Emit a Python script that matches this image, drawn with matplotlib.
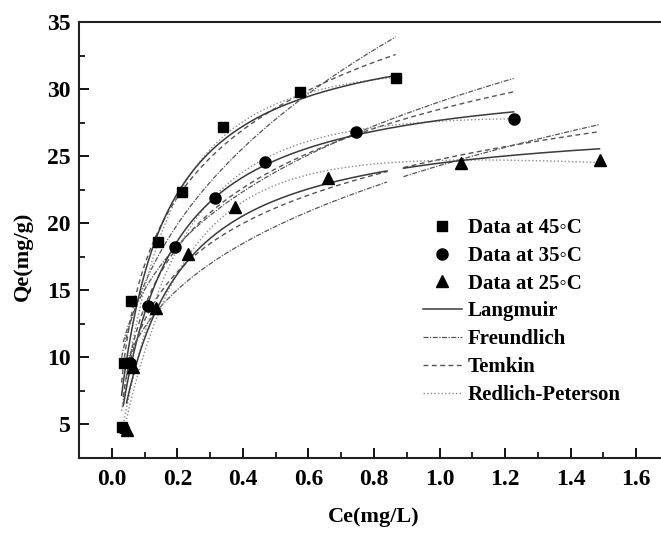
import numpy as np
import matplotlib
matplotlib.use("Agg")
import matplotlib.pyplot as plt
from matplotlib.lines import Line2D
from matplotlib.ticker import MultipleLocator

plt.rcParams['font.family'] = ['Liberation Serif', 'DejaVu Serif']
plt.rcParams['font.weight'] = 'bold'

# ---- measured data (Ce in mg/L, Qe in mg/g) ----
ce_45 = [0.030, 0.037, 0.060, 0.140, 0.213, 0.338, 0.575, 0.866]
qe_45 = [4.8, 9.6, 14.2, 18.6, 22.3, 27.2, 29.8, 30.8]
ce_35 = [0.035, 0.055, 0.110, 0.192, 0.314, 0.466, 0.744, 1.226]
qe_35 = [4.7, 9.6, 13.8, 18.2, 21.9, 24.6, 26.8, 27.8]
ce_25 = [0.045, 0.065, 0.134, 0.232, 0.375, 0.660, 1.064, 1.488]
qe_25 = [4.6, 9.3, 13.7, 17.7, 21.2, 23.4, 24.5, 24.7]

# ---- fitted isotherm parameters (estimated from the curves) ----
# Langmuir: qm, KL
langmuir_45 = (35.2, 8.55)
langmuir_35 = (31.47, 7.29)
langmuir_25 = (28.06, 6.84)
# Freundlich: KF, 1/n
freundlich_45 = (35.7, 0.363)
freundlich_35 = (29.05, 0.286)
freundlich_25 = (24.3, 0.298)
# Temkin: B, A
temkin_45 = (7.27, 102.0)
temkin_35 = (6.40, 85.8)
temkin_25 = (5.21, 115.8)
# Redlich-Peterson: K, a, g
rp_45 = (227.2, 6.29, 1.10)
rp_35 = (156.5, 4.67, 1.15)
rp_25 = (132.7, 4.376, 1.20)

# curve ranges (Ce) ; 25 C curves show a small gap
range_45 = [(0.030, 0.866)]
range_35 = [(0.035, 1.226)]
range_25 = [(0.045, 0.84), (0.89, 1.488)]
range_25_rp = [(0.045, 1.488)]

series_labels = ['Data at 45\u25e6C', 'Data at 35\u25e6C', 'Data at 25\u25e6C']
model_labels = ['Langmuir', 'Freundlich', 'Temkin', 'Redlich-Peterson']


def langmuir(c, p):
    qm, k = p
    return qm * k * c / (1 + k * c)


def freundlich(c, p):
    kf, inv_n = p
    return kf * c ** inv_n


def temkin(c, p):
    b, a = p
    return b * np.log(a * c)


def redlich(c, p):
    k, a, g = p
    return k * c / (1 + a * c ** g)


styles = {
    'L': dict(color='#3a3a3a', lw=1.1, ls='-'),
    'F': dict(color='#555555', lw=0.9, ls=(0, (4, 1.2, 1, 1.2))),
    'T': dict(color='#555555', lw=1.0, ls=(0, (3.5, 2.5))),
    'R': dict(color='#8a8a8a', lw=1.0, ls=(0, (1, 1.6))),
}

fig = plt.figure(figsize=(6.61, 5.34), dpi=100)
ax = fig.add_axes([0.1195, 0.1423, 0.8926, 0.8165])


def draw(ranges, func, p, st):
    for lo, hi in ranges:
        c = np.linspace(lo, hi, 300)
        ax.plot(c, func(c, p), **st)


sets = [
    (range_45, range_45, langmuir_45, freundlich_45, temkin_45, rp_45),
    (range_35, range_35, langmuir_35, freundlich_35, temkin_35, rp_35),
    (range_25, range_25_rp, langmuir_25, freundlich_25, temkin_25, rp_25),
]
for rng, rng_rp, pl, pf, pt, pr in sets:
    draw(rng, freundlich, pf, styles['F'])
    draw(rng, temkin, pt, styles['T'])
    draw(rng_rp, redlich, pr, styles['R'])
    draw(rng, langmuir, pl, styles['L'])

ax.plot(ce_45, qe_45, 's', color='black', ms=7.5, ls='none')
ax.plot(ce_35, qe_35, 'o', color='black', ms=8, ls='none')
ax.plot(ce_25, qe_25, '^', color='black', ms=9, ls='none')

ax.set_xlim(-0.1, 1.7)
ax.set_ylim(2.5, 35)
ax.xaxis.set_minor_locator(MultipleLocator(0.1))
ax.yaxis.set_minor_locator(MultipleLocator(2.5))
xt = np.arange(0, 1.61, 0.2)
ax.set_xticks(xt)
ax.set_xticklabels(['%.1f' % v for v in xt])
ax.set_yticks(np.arange(5, 36, 5))

ax.tick_params(which='major', direction='in', length=7, width=1.3,
               labelsize=17, top=False, right=False)
ax.tick_params(which='minor', direction='in', length=4, width=1.2,
               top=False, right=False)
ax.tick_params(axis='x', pad=8)
ax.tick_params(axis='y', pad=6)
for lab in ax.get_xticklabels() + ax.get_yticklabels():
    lab.set_fontweight('bold')
for s in ax.spines.values():
    s.set_linewidth(1.5)
    s.set_color('#222222')

ax.set_xlabel('Ce(mg/L)', fontsize=16, fontweight='bold', labelpad=12)
ax.set_ylabel('Qe(mg/g)', fontsize=16, fontweight='bold')
ax.yaxis.set_label_coords(-0.078, 0.463)

handles = [
    Line2D([], [], marker='s', color='black', ls='none', ms=7.5),
    Line2D([], [], marker='o', color='black', ls='none', ms=8),
    Line2D([], [], marker='^', color='black', ls='none', ms=9),
    Line2D([], [], **styles['L']),
    Line2D([], [], **styles['F']),
    Line2D([], [], **styles['T']),
    Line2D([], [], **styles['R']),
]
leg = ax.legend(handles, series_labels + model_labels, loc='upper left',
                bbox_to_anchor=(0.583, 0.5505), frameon=False,
                prop=dict(size=15, weight='bold'), handlelength=1.87,
                handletextpad=0.29, labelspacing=0.375, borderpad=0.0,
                borderaxespad=0.0)

fig.savefig('out.png', dpi=100)
